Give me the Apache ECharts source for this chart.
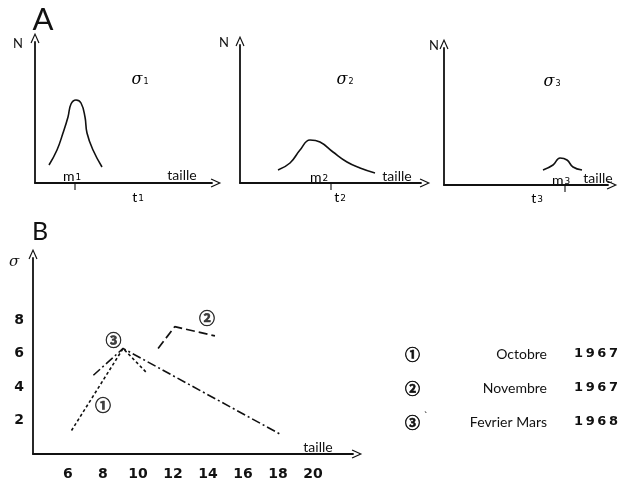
<!DOCTYPE html>
<html><head><meta charset="utf-8">
<script src="https://cdn.jsdelivr.net/npm/echarts@6/dist/echarts.min.js"></script>
<style>html,body{margin:0;padding:0;background:#fff}#c{width:630px;height:481px}</style>
</head><body><div id="c"></div>
<script>
// ---- Panel A : schematic size distributions (arbitrary units: taille, N) ----
const curveA1 = [[14,18],[22,33],[28,50],[33,66],[36,79],[41,83],[46,80],[50,66],[52,50],[58,33],[67,16]];
const curveA2 = [[38,13],[50,20],[60,33],[70,43],[80,41],[93,31],[107,21],[120,15],[135,10]];
const curveA3 = [[99,15],[109,20],[116,27],[123,25],[129,18],[138,15]];
const meanA = [40, 91, 121];
const rangeAx = [177, 181, 164];
const rangeAy = [141, 138, 137];
// ---- Panel B : sigma vs taille ----
const octobre = [[6.2,1.4],[9.15,6.3],[10.45,4.9]];
const novembre = [[11.15,6.3],[12.1,7.6],[14.4,7.05]];
const fevrierMars = [[7.45,4.7],[9.15,6.3],[18.1,1.2]];
const labelsB = [['①',8.0,2.95],['②',13.95,8.1],['③',8.6,6.8]];
const xTicksB = [6,8,10,12,14,16,18,20];
const yTicksB = [2,4,6,8];
const legendNames = ['Octobre','Novembre','Fevrier Mars'];
const legendYears = ['1967','1967','1968'];
const legendMarks = ['①','②','③'];

const FONT = 'Lato, "DejaVu Sans", sans-serif';
const CIRC = '"Noto Sans CJK JP", "DejaVu Sans", sans-serif';
const CHEV = 'path://M0,11 L5,0 L10,11 L8.8,11.6 L5,3 L1.2,11.6 Z';
const axLine = {show:true, lineStyle:{color:'#111', width:1.8}, symbol:['none', CHEV], symbolSize:[9,11], symbolOffset:[0,4]};

const chart = echarts.init(document.getElementById('c'), null, {renderer:'canvas'});

const gridsA = [
  {left:35, top:42, width:177, height:141},
  {left:240, top:45, width:181, height:138},
  {left:444, top:48, width:164, height:137}
];
const grids = gridsA.concat([{left:33, top:258, width:320, height:199}]);

const xAxes = [], yAxes = [], series = [];
[curveA1, curveA2, curveA3].forEach((c, i) => {
  xAxes.push({type:'value', gridIndex:i, min:0, max:rangeAx[i], axisLine:axLine, axisTick:{show:false}, axisLabel:{show:false}, splitLine:{show:false}});
  yAxes.push({type:'value', gridIndex:i, min:0, max:rangeAy[i], axisLine:axLine, axisTick:{show:false}, axisLabel:{show:false}, splitLine:{show:false}});
  series.push({type:'line', xAxisIndex:i, yAxisIndex:i, data:c, smooth:0.45, symbol:'none', lineStyle:{color:'#111', width:1.6}});
  series.push({type:'scatter', xAxisIndex:i, yAxisIndex:i, data:[[meanA[i],0]], symbol:'rect', symbolSize:[1.4,8], symbolOffset:[0,3], itemStyle:{color:'#111'}, silent:true, clip:false});
});
xAxes.push({type:'value', gridIndex:3, min:4, max:22.29, interval:2, axisLine:axLine, axisTick:{show:false}, splitLine:{show:false},
  axisLabel:{margin:13, color:'#111', fontWeight:'bold', fontSize:14, fontFamily:'"DejaVu Sans", sans-serif', showMaxLabel:false, showMinLabel:false,
    formatter: v => xTicksB.includes(v) ? String(v) : ''}});
yAxes.push({type:'value', gridIndex:3, min:0, max:11.7, interval:2, axisLine:axLine, axisTick:{show:false}, splitLine:{show:false},
  axisLabel:{margin:9, color:'#111', fontWeight:'bold', fontSize:14, fontFamily:'"DejaVu Sans", sans-serif', showMaxLabel:false,
    formatter: v => yTicksB.includes(v) ? String(v) : ''}});
series.push({type:'line', xAxisIndex:3, yAxisIndex:3, data:octobre, symbol:'none', lineStyle:{color:'#111', width:1.6, type:[3,2.5]}});
series.push({type:'line', xAxisIndex:3, yAxisIndex:3, data:novembre, symbol:'none', lineStyle:{color:'#111', width:1.7, type:[9,4]}});
series.push({type:'line', xAxisIndex:3, yAxisIndex:3, data:fevrierMars, symbol:'none', lineStyle:{color:'#111', width:1.6, type:[9,3,2,3]}});
series.push({type:'scatter', xAxisIndex:3, yAxisIndex:3, symbol:'circle', symbolSize:1, silent:true,
  itemStyle:{color:'rgba(0,0,0,0)'},
  data: labelsB.map(d => ({value:[d[1], d[2]], name:d[0]})),
  label:{show:true, position:'inside', formatter: p => p.name, fontSize:16, fontWeight:'bold', color:'#111', fontFamily:CIRC,
    textBorderColor:'#111', textBorderWidth:0.6}});

function txt(x, y, text, size, extra) {
  return {type:'text', x:x, y:y, style:Object.assign({text:text, font: size + 'px ' + FONT, fill:'#111', textAlign:'center', textVerticalAlign:'middle'}, extra || {})};
}
function sub(x, y, main, s, mainSize, subSize, family, italic) {
  const fam = family || FONT;
  return {type:'text', x:x, y:y, style:{text:'{a|'+main+'}{b|'+s+'}', textAlign:'center', textVerticalAlign:'middle',
    rich:{a:{fontSize:mainSize, fontFamily:fam, fontStyle: italic ? 'italic' : 'normal', color:'#111'},
          b:{fontSize:subSize, fontFamily:'"DejaVu Sans", sans-serif', color:'#111', padding:[4,0,0,1]}}}};
}
const graphic = [
  txt(43, 20, 'A', 31, {font:'31px ' + FONT}),
  txt(40, 232, 'B', 25, {font:'25px ' + FONT}),
  txt(18, 44, 'N', 13), txt(224, 43, 'N', 13), txt(434, 46, 'N', 13),
  sub(140, 80, 'σ', '1', 16, 8, '"DejaVu Serif", serif', true),
  sub(345, 80, 'σ', '2', 16, 8, '"DejaVu Serif", serif', true),
  sub(552, 82, 'σ', '3', 16, 8, '"DejaVu Serif", serif', true),
  txt(182, 175, 'taille', 14), txt(397, 176, 'taille', 14), txt(598, 178, 'taille', 14),
  sub(72, 176, 'm', '1', 14, 9), sub(319, 177, 'm', '2', 14, 9), sub(561, 180, 'm', '3', 14, 9),
  sub(138, 197, 't', '1', 14, 9), sub(340, 197, 't', '2', 14, 9), sub(537, 198, 't', '3', 14, 9),
  txt(14, 262, 'σ', 15, {font:'italic 15px "DejaVu Serif", serif'}),
  txt(318, 447, 'taille', 14)
];
legendNames.forEach((n, i) => {
  const y = 354 + i * 34;
  graphic.push({type:'text', x:405, y:y, style:{text:legendMarks[i], font:'bold 15px ' + CIRC, fill:'#111', textAlign:'left', textVerticalAlign:'middle', stroke:'#111', lineWidth:0.6}});
  graphic.push({type:'text', x:547, y:y, style:{text:n, font:'14px ' + FONT, fill:'#111', textAlign:'right', textVerticalAlign:'middle'}});
  graphic.push({type:'text', x:574, y:y, style:{text:legendYears[i].split('').join('\u2009'), font:'bold 13px "DejaVu Sans", sans-serif', fill:'#111', textAlign:'left', textVerticalAlign:'middle'}});
});
graphic.push(txt(426, 416, '`', 11));

chart.setOption({
  animation:false,
  backgroundColor:'#fff',
  grid: grids,
  xAxis: xAxes,
  yAxis: yAxes,
  series: series,
  graphic: graphic
});
</script></body></html>
